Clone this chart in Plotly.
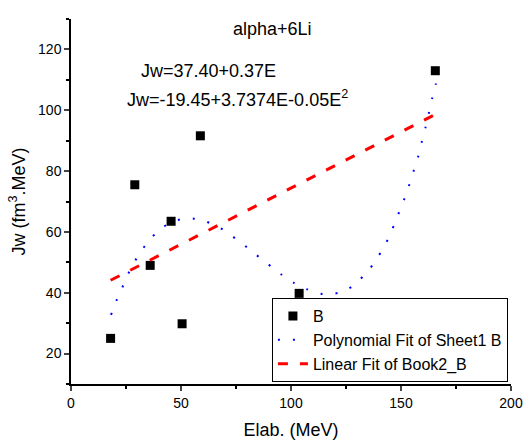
import plotly.graph_objects as go

# Data points
E_data = [18, 29, 36, 45.5, 50.5, 58.8, 103.7, 165.6]
Jw_data = [25, 75.5, 49, 63.5, 29.8, 91.6, 39.8, 113.0]

# Polynomial fit curve
poly_E = [18.2, 20.6, 23.3, 26.0, 29.2, 32.9, 37.0, 41.7, 47.3, 54.0, 60.1, 65.9,
          71.5, 76.0, 81.0, 86.0, 91.0, 95.8, 101.5, 107.1, 113.5, 118.0, 122.7,
          128.3, 132.9, 137.4, 140.9, 144.2, 146.8, 149.2, 151.7, 153.8, 155.9,
          157.9, 159.5, 161.2, 162.7, 164.2, 165.9]
poly_J = [32.7, 37.3, 41.7, 46.2, 50.6, 54.7, 58.4, 61.5, 63.7, 64.5, 63.7, 62.1,
          59.6, 57.1, 54.4, 51.4, 48.6, 45.9, 43.2, 41.2, 39.7, 39.5, 40.2,
          42.3, 45.5, 49.4, 53.4, 57.8, 62.2, 66.6, 71.2, 75.6, 80.4,
          85.0, 89.8, 94.5, 99.2, 104.0, 108.8]

# Linear fit end points
lin_E = [18, 166]
lin_J = [44.1, 98.8]

x_ticks = [0, 50, 100, 150, 200]
y_ticks = [20, 40, 60, 80, 100, 120]

FONT = "Arial, Liberation Sans, sans-serif"

fig = go.Figure()
fig.add_trace(go.Scatter(
    x=E_data, y=Jw_data, mode="markers", name="B",
    marker=dict(symbol="square", size=9, color="black"),
))
fig.add_trace(go.Scatter(
    x=poly_E, y=poly_J, mode="lines", name="Polynomial Fit of Sheet1 B",
    line=dict(color="#0000FF", width=2, dash="2px,13px", shape="spline", smoothing=0.6),
))
fig.add_trace(go.Scatter(
    x=lin_E, y=lin_J, mode="lines", name="Linear Fit of Book2_B",
    line=dict(color="#FF0000", width=3, dash="10px,12px"),
))

fig.update_layout(
    width=527, height=441,
    margin=dict(l=71, r=16, t=19, b=57),
    paper_bgcolor="white", plot_bgcolor="white",
    font=dict(family=FONT, color="black", size=14),
    showlegend=True,
    legend=dict(
        x=0.993, y=0.005, xanchor="right", yanchor="bottom",
        bordercolor="black", borderwidth=1, bgcolor="white",
        font=dict(size=16, family=FONT), tracegroupgap=0,
    ),
    xaxis=dict(
        range=[0, 200], tickvals=x_ticks, ticks="outside", ticklen=5, tickwidth=1.5,
        showline=True, linecolor="black", linewidth=1.5, showgrid=False, zeroline=False,
        automargin=False,
        minor=dict(dtick=25, ticks="outside", ticklen=3, tickwidth=1.5, tickcolor="black"),
        tickfont=dict(size=14), title=dict(text="Elab. (MeV)", font=dict(size=18), standoff=14),
    ),
    yaxis=dict(
        range=[10, 130], tickvals=y_ticks, ticks="outside", ticklen=5, tickwidth=1.5,
        showline=True, linecolor="black", linewidth=1.5, showgrid=False, zeroline=False,
        automargin=False,
        minor=dict(dtick=10, ticks="outside", ticklen=3, tickwidth=1.5, tickcolor="black"),
        tickfont=dict(size=14), title=dict(text="Jw (fm<sup>3</sup>.MeV)", font=dict(size=18), standoff=8),
    ),
    annotations=[
        dict(x=91.5, y=126.8, xref="x", yref="y", text="alpha+6Li", showarrow=False,
             font=dict(size=18)),
        dict(x=62.5, y=113, xref="x", yref="y", text="Jw=37.40+0.37E", showarrow=False,
             font=dict(size=18)),
        dict(x=75.5, y=104, xref="x", yref="y", text="Jw=-19.45+3.7374E-0.05E<sup>2</sup>",
             showarrow=False, font=dict(size=18)),
    ],
)

fig.write_html("out.html")
